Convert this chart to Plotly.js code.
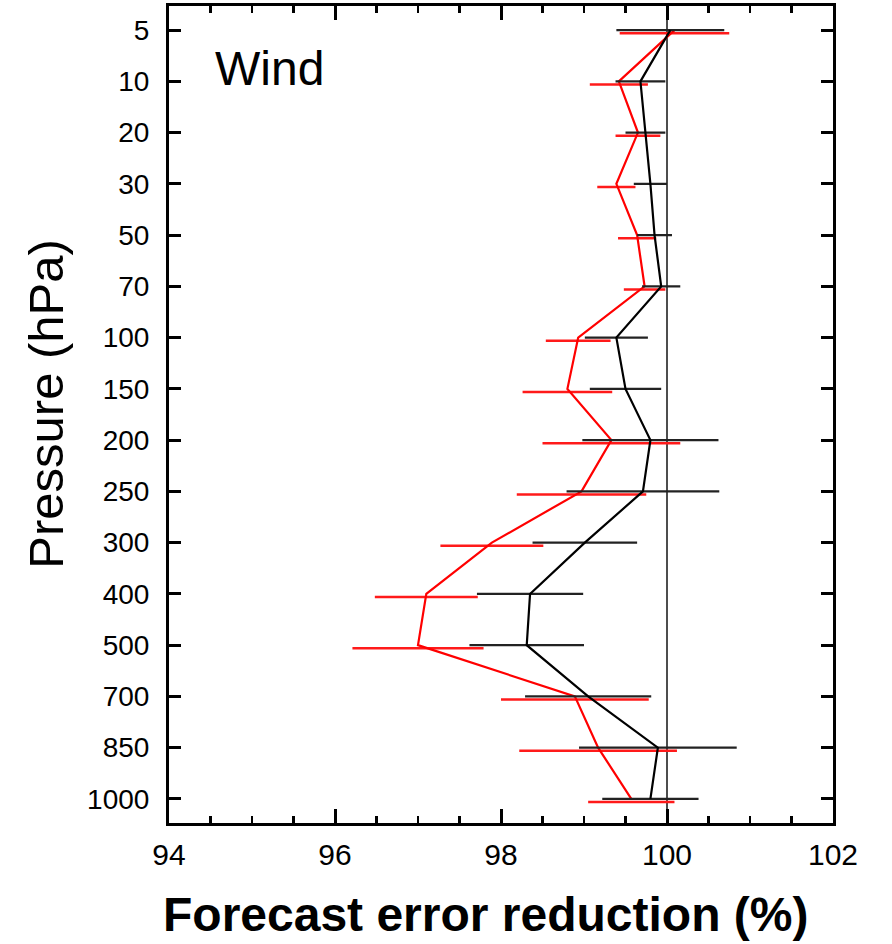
<!DOCTYPE html>
<html>
<head>
<meta charset="utf-8">
<script src="https://cdn.plot.ly/plotly-3.0.1.min.js"></script>
<style>
  html, body { margin: 0; padding: 0; background: #fff; }
  #chart { width: 892px; height: 944px; }
</style>
</head>
<body>
<div id="chart"></div>
<script>
// Pressure levels, top of the atmosphere first
const levels = ['5', '10', '20', '30', '50', '70', '100', '150', '200', '250',
                '300', '400', '500', '700', '850', '1000'];

// Black profile: mean forecast error reduction (%) and its half-width
const blackMean = [100.04, 99.68, 99.74, 99.80, 99.85, 99.93, 99.39, 99.50, 99.80, 99.71,
                   99.01, 98.35, 98.31, 99.05, 99.89, 99.80];
const blackErr  = [0.65, 0.30, 0.24, 0.20, 0.21, 0.23, 0.38, 0.43, 0.82, 0.92,
                   0.63, 0.64, 0.69, 0.76, 0.95, 0.58];

// Red profile: mean forecast error reduction (%) and its half-width
const redMean = [100.09, 99.42, 99.65, 99.39, 99.64, 99.73, 98.93, 98.80, 99.33, 98.97,
                 97.89, 97.10, 97.00, 98.89, 99.17, 99.57];
const redErr  = [0.66, 0.35, 0.27, 0.23, 0.23, 0.25, 0.39, 0.54, 0.83, 0.78,
                 0.62, 0.62, 0.79, 0.89, 0.95, 0.52];

const idx = levels.map((_, i) => i);
// red bars sit a few pixels under the black ones so both stay visible
const redBarShift = 0.06;

const FONT = 'Liberation Sans, Arial, Helvetica, sans-serif';

const traces = [
  {
    x: redMean, y: idx.map(i => i + redBarShift), type: 'scatter', mode: 'none',
    error_x: { type: 'data', array: redErr, symmetric: true, color: '#ff1a1a',
               thickness: 2.5, width: 0 },
    hoverinfo: 'skip', showlegend: false
  },
  {
    x: redMean, y: idx, type: 'scatter', mode: 'lines',
    line: { color: '#ff0000', width: 2.2 }, showlegend: false
  },
  {
    x: blackMean, y: idx, type: 'scatter', mode: 'lines',
    line: { color: '#000000', width: 2.2 },
    error_x: { type: 'data', array: blackErr, symmetric: true, color: '#222222',
               thickness: 2.2, width: 0 },
    showlegend: false
  }
];

const layout = {
  width: 892, height: 944,
  margin: { l: 169, r: 59, t: 6, b: 121 },
  paper_bgcolor: '#ffffff', plot_bgcolor: '#ffffff',
  font: { family: FONT, color: '#000' },
  showlegend: false,
  xaxis: {
    range: [94, 102], tickmode: 'linear', tick0: 94, dtick: 2,
    ticks: 'inside', ticklen: 14, tickwidth: 3, tickcolor: '#000',
    minor: { dtick: 0.5, ticks: 'inside', ticklen: 7, tickwidth: 2.5, tickcolor: '#000', showgrid: false },
    showline: true, linewidth: 3, linecolor: '#000', mirror: 'allticks',
    showgrid: false, zeroline: false,
    tickfont: { family: FONT, size: 30, color: '#000', weight: 'normal' },
    ticklabelstandoff: 3
  },
  yaxis: {
    range: [15.47, -0.47], tickmode: 'array', tickvals: idx, ticktext: levels,
    ticks: 'inside', ticklen: 12, tickwidth: 3, tickcolor: '#000',
    showline: true, linewidth: 3, linecolor: '#000', mirror: 'allticks',
    showgrid: false, zeroline: false,
    tickfont: { family: FONT, size: 28, color: '#000', weight: 'normal' },
    ticklabelstandoff: 11
  },
  shapes: [
    { type: 'line', xref: 'x', yref: 'paper', x0: 100, x1: 100, y0: 0, y1: 1,
      line: { color: '#4d4d4d', width: 2 }, layer: 'below' }
  ],
  annotations: [
    { text: 'Wind', xref: 'paper', yref: 'paper', x: 0.066, y: 0.924,
      xanchor: 'left', yanchor: 'middle', showarrow: false,
      font: { family: FONT, size: 48, color: '#000' } },
    // axis titles
    { text: '<b>Forecast error reduction (%)</b>', xref: 'paper', yref: 'paper',
      x: 0.476, y: -0.112, xanchor: 'center', yanchor: 'middle', showarrow: false,
      font: { family: FONT, size: 48, color: '#000' } },
    { text: 'Pressure (hPa)', xref: 'paper', yref: 'paper', textangle: -90,
      x: -0.185, y: 0.5135, xanchor: 'center', yanchor: 'middle', showarrow: false,
      font: { family: FONT, size: 49, color: '#000' } }
  ]
};

Plotly.newPlot('chart', traces, layout, { displayModeBar: false, staticPlot: true });
</script>
</body>
</html>
